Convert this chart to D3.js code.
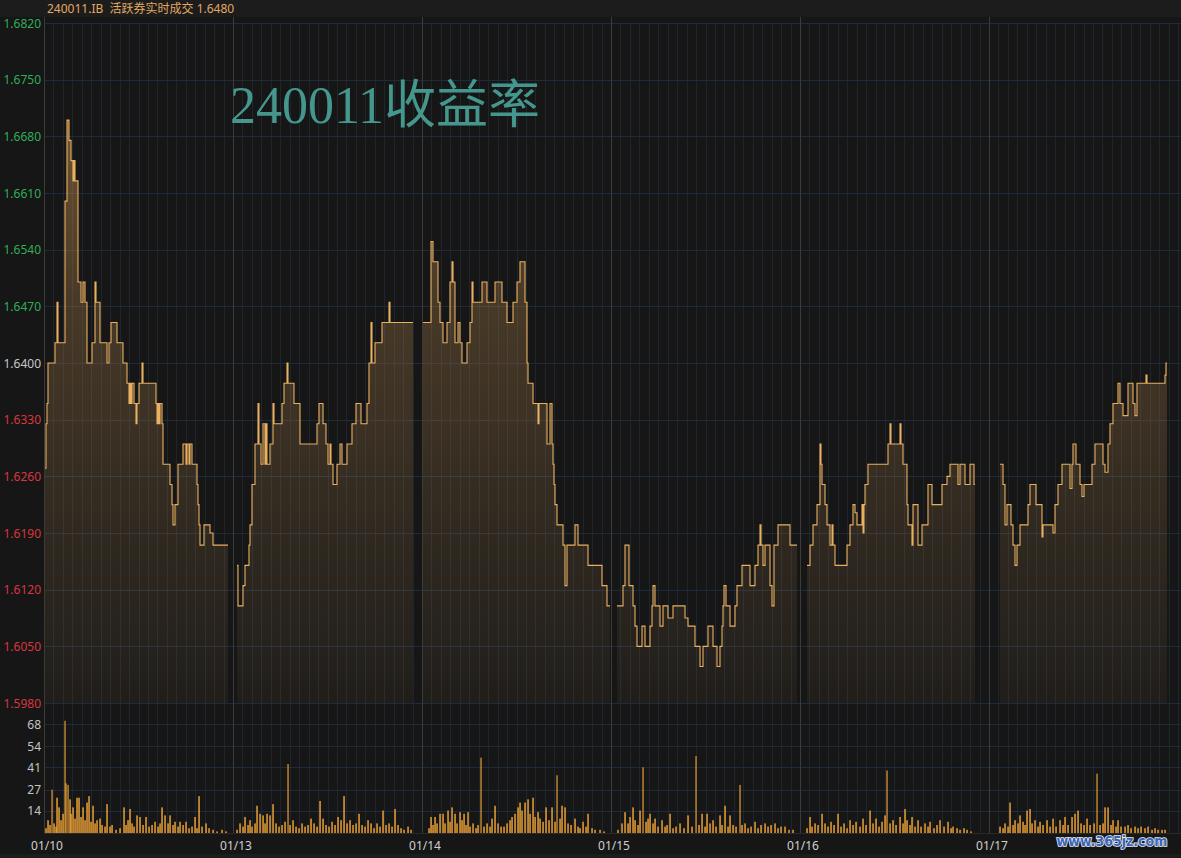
<!DOCTYPE html>
<html><head><meta charset="utf-8">
<script src="https://cdn.jsdelivr.net/npm/d3@7/dist/d3.min.js"></script>
<style>html,body{margin:0;padding:0;background:#161616;}svg{display:block;}</style>
</head><body>
<svg id="c" width="1181" height="858"></svg>
<script>
// ---------- DATA ----------
const title = "240011.IB  活跃券实时成交 1.6480";
const watermark = "240011收益率";
const siteMark = "www.365jz.com";
const dayLabels = ["01/10","01/13","01/14","01/15","01/16","01/17"];
const DAY_LEN = 189;               // bars per trading session
const priceTicks = [1.5980,1.6050,1.6120,1.6190,1.6260,1.6330,1.6400,1.6470,1.6540,1.6610,1.6680,1.6750,1.6820];
const refPrice = 1.6400;
const volTicks = [14,27,41,54,68];

// [bar within session, yield]
const price0110 = [[1,1.6270],[2,1.6325],[3,1.6350],[4,1.6400],[11,1.6425],[13,1.6475],[14,1.6425],[21,1.6600],[23,1.6700],[25,1.6675],[27,1.6650],[29,1.6625],[30,1.6650],[31,1.6625],[34,1.6500],[37,1.6475],[39,1.6500],[41,1.6475],[43,1.6400],[48,1.6425],[51,1.6500],[52,1.6475],[56,1.6425],[63,1.6400],[65,1.6425],[67,1.6450],[73,1.6425],[79,1.6400],[83,1.6375],[85,1.6350],[86,1.6375],[87,1.6350],[88,1.6375],[90,1.6350],[92,1.6325],[93,1.6350],[95,1.6375],[98,1.6400],[99,1.6375],[112,1.6350],[113,1.6325],[114,1.6350],[115,1.6325],[116,1.6350],[118,1.6325],[119,1.6275],[126,1.6250],[128,1.6225],[129,1.6200],[131,1.6225],[134,1.6275],[139,1.6300],[142,1.6275],[143,1.6300],[145,1.6275],[146,1.6300],[148,1.6275],[153,1.6250],[154,1.6225],[155,1.6200],[156,1.6175],[160,1.6200],[166,1.6190],[169,1.6175],[184,1.6175]];
const price0113 = [[4,1.6150],[5,1.6100],[10,1.6125],[12,1.6150],[16,1.6175],[17,1.6200],[19,1.6250],[22,1.6300],[25,1.6350],[26,1.6300],[28,1.6275],[30,1.6325],[32,1.6275],[33,1.6325],[34,1.6275],[37,1.6300],[40,1.6350],[41,1.6325],[49,1.6350],[51,1.6375],[54,1.6400],[55,1.6375],[61,1.6350],[67,1.6300],[84,1.6325],[86,1.6350],[90,1.6325],[93,1.6300],[95,1.6275],[97,1.6300],[98,1.6275],[100,1.6250],[104,1.6275],[107,1.6300],[109,1.6275],[114,1.6300],[119,1.6325],[123,1.6350],[128,1.6325],[134,1.6350],[136,1.6400],[138,1.6450],[139,1.6400],[142,1.6425],[149,1.6450],[156,1.6475],[157,1.6450],[180,1.6450]];
const price0114 = [[0,1.6450],[9,1.6550],[11,1.6525],[16,1.6475],[18,1.6450],[21,1.6425],[25,1.6450],[28,1.6500],[30,1.6525],[31,1.6500],[33,1.6425],[36,1.6450],[38,1.6425],[40,1.6400],[45,1.6425],[48,1.6450],[50,1.6500],[51,1.6475],[60,1.6500],[65,1.6475],[73,1.6500],[80,1.6475],[85,1.6450],[91,1.6475],[95,1.6500],[98,1.6525],[103,1.6475],[105,1.6400],[106,1.6375],[111,1.6350],[116,1.6325],[117,1.6350],[125,1.6300],[128,1.6350],[130,1.6300],[131,1.6275],[132,1.6250],[133,1.6225],[135,1.6200],[141,1.6175],[143,1.6125],[145,1.6175],[153,1.6200],[156,1.6175],[166,1.6150],[180,1.6125],[185,1.6100],[188,1.6100]];
const price0115 = [[6,1.6100],[12,1.6125],[14,1.6175],[18,1.6125],[22,1.6100],[24,1.6075],[26,1.6050],[31,1.6075],[34,1.6050],[39,1.6075],[41,1.6100],[42,1.6125],[44,1.6100],[49,1.6075],[52,1.6100],[57,1.6085],[62,1.6100],[74,1.6085],[77,1.6075],[84,1.6050],[89,1.6025],[92,1.6050],[97,1.6075],[102,1.6050],[106,1.6025],[109,1.6050],[111,1.6075],[112,1.6100],[113,1.6125],[115,1.6100],[119,1.6075],[124,1.6100],[126,1.6125],[131,1.6150],[139,1.6125],[144,1.6150],[147,1.6175],[149,1.6200],[150,1.6175],[152,1.6150],[154,1.6175],[159,1.6125],[161,1.6100],[163,1.6175],[167,1.6200],[179,1.6175],[186,1.6175]];
const price0116 = [[7,1.6150],[10,1.6175],[13,1.6200],[17,1.6225],[20,1.6300],[21,1.6275],[22,1.6250],[25,1.6225],[27,1.6200],[30,1.6175],[32,1.6200],[33,1.6175],[35,1.6150],[47,1.6175],[50,1.6200],[53,1.6225],[55,1.6215],[57,1.6200],[62,1.6225],[63,1.6190],[64,1.6225],[65,1.6250],[68,1.6275],[88,1.6300],[90,1.6325],[91,1.6300],[100,1.6325],[101,1.6300],[103,1.6275],[107,1.6225],[108,1.6200],[112,1.6175],[113,1.6225],[117,1.6225],[118,1.6175],[122,1.6200],[128,1.6250],[132,1.6225],[142,1.6250],[147,1.6260],[150,1.6275],[158,1.6250],[160,1.6275],[165,1.6250],[170,1.6275],[174,1.6250],[175,1.6250]];
const price0117 = [[11,1.6275],[14,1.6250],[16,1.6200],[18,1.6225],[22,1.6200],[24,1.6175],[26,1.6150],[28,1.6175],[31,1.6200],[39,1.6225],[41,1.6250],[47,1.6225],[53,1.6185],[54,1.6200],[64,1.6190],[66,1.6225],[69,1.6250],[73,1.6275],[81,1.6245],[83,1.6275],[84,1.6300],[87,1.6275],[91,1.6250],[93,1.6235],[95,1.6250],[103,1.6275],[106,1.6300],[114,1.6275],[116,1.6265],[119,1.6300],[121,1.6325],[124,1.6350],[129,1.6375],[131,1.6350],[134,1.6335],[139,1.6375],[144,1.6350],[146,1.6335],[148,1.6375],[157,1.6385],[158,1.6375],[176,1.6385],[177,1.6400],[178,1.6400]];

// [bar within session, volume]
const vol0110 = [[2,3],[4,8],[6,5],[8,27],[10,6],[12,4],[13,22],[15,16],[17,8],[19,12],[21,70],[22,31],[24,30],[26,21],[27,12],[29,16],[31,9],[33,22],[35,22],[37,10],[39,16],[41,8],[43,19],[45,23],[47,7],[49,17],[51,6],[53,8],[56,9],[58,5],[61,4],[63,18],[66,4],[68,5],[72,2],[76,3],[80,16],[82,5],[84,8],[86,15],[88,6],[90,4],[93,11],[96,10],[99,5],[102,10],[105,4],[108,5],[111,7],[114,4],[116,6],[118,16],[121,11],[124,6],[126,11],[129,5],[131,7],[134,4],[136,7],[139,5],[142,7],[145,3],[148,4],[151,10],[153,3],[155,23],[158,4],[162,6],[165,3],[169,2],[173,1],[178,2],[182,1]];
const vol0113 = [[4,2],[7,6],[10,4],[12,10],[15,5],[17,8],[19,4],[22,6],[24,17],[27,12],[30,11],[32,6],[34,12],[37,11],[40,18],[43,6],[46,4],[49,5],[52,7],[55,43],[57,5],[60,8],[63,4],[66,3],[69,6],[72,4],[75,5],[78,9],[81,6],[84,4],[87,20],[90,9],[93,5],[96,4],[99,7],[102,5],[105,10],[108,8],[111,23],[114,6],[117,8],[120,5],[123,6],[126,12],[129,5],[132,4],[135,8],[138,6],[141,3],[144,6],[147,4],[150,14],[153,5],[156,6],[159,4],[162,15],[165,5],[168,3],[171,2],[175,4],[178,2]];
const vol0114 = [[7,3],[9,10],[11,5],[13,10],[15,6],[18,12],[21,12],[23,6],[26,14],[28,7],[30,16],[33,12],[35,6],[38,13],[40,8],[42,12],[44,5],[46,13],[48,4],[51,6],[54,3],[56,5],[59,47],[62,4],[65,6],[68,4],[70,9],[73,17],[76,6],[79,4],[82,4],[85,6],[88,8],[90,10],[93,12],[96,16],[98,19],[100,14],[103,19],[106,21],[108,12],[111,22],[113,10],[116,13],[118,9],[121,7],[124,16],[127,8],[130,16],[133,7],[135,36],[138,9],[140,17],[143,16],[146,6],[149,5],[153,9],[156,4],[158,3],[161,7],[164,4],[166,12],[170,3],[173,2],[178,2],[182,1]];
const vol0115 = [[7,2],[11,6],[14,13],[17,6],[19,10],[22,16],[24,8],[27,5],[29,14],[32,41],[35,7],[37,9],[39,12],[42,6],[44,9],[47,4],[51,8],[54,4],[56,5],[59,12],[62,3],[65,4],[69,6],[73,3],[77,11],[81,4],[85,48],[88,5],[91,12],[94,4],[96,12],[99,6],[102,8],[105,4],[109,11],[111,5],[114,17],[117,4],[119,11],[122,5],[125,4],[129,30],[131,5],[134,6],[137,3],[140,4],[144,7],[147,3],[150,5],[154,6],[157,4],[160,5],[164,6],[167,3],[170,4],[174,4],[178,2],[182,2]];
const vol0116 = [[7,3],[10,10],[12,4],[15,6],[18,5],[22,12],[25,6],[28,4],[31,7],[34,5],[38,12],[41,4],[44,6],[47,3],[50,8],[53,5],[56,7],[60,4],[63,9],[66,5],[70,14],[73,6],[76,9],[79,4],[82,7],[85,11],[87,39],[90,6],[93,8],[96,5],[100,10],[103,6],[105,15],[107,8],[110,5],[112,10],[115,4],[118,8],[121,4],[125,6],[128,4],[130,7],[134,3],[137,5],[140,8],[144,4],[148,7],[151,3],[153,4],[157,3],[160,2],[164,3],[167,2],[171,1]];
const vol0117 = [[11,4],[14,3],[16,6],[19,4],[21,19],[24,5],[26,8],[29,6],[31,11],[34,7],[36,5],[38,14],[41,15],[43,6],[46,8],[49,4],[51,7],[54,5],[58,8],[61,4],[64,9],[67,4],[71,8],[74,5],[76,10],[79,5],[83,10],[86,12],[89,14],[92,6],[95,5],[98,9],[101,5],[105,6],[108,37],[111,5],[114,6],[116,16],[119,16],[122,5],[124,8],[127,4],[129,8],[132,4],[136,4],[139,5],[142,3],[146,4],[149,3],[152,4],[156,3],[159,4],[163,2],[166,3],[169,2],[173,2],[176,2]];

const priceByDay = [price0110, price0113, price0114, price0115, price0116, price0117];
const volByDay = [vol0110, vol0113, vol0114, vol0115, vol0116, vol0117];

// ---------- CHART ----------
const W = 1181, H = 858;
const svg = d3.select("#c");
const L = 44, R = 1178, PT = 23, PB = 703, VT = 724, VB = 833;

const x = d3.scaleLinear().domain([0, dayLabels.length * DAY_LEN]).range([L, R]);
const y = d3.scaleLinear().domain([priceTicks[0], priceTicks[priceTicks.length-1]]).range([PB, PT]);
const yv = d3.scaleLinear().domain([0, volTicks[volTicks.length-1]]).range([VB, VT]);

const defs = svg.append("defs");
const grad = defs.append("linearGradient").attr("id","fillG")
  .attr("gradientUnits","userSpaceOnUse").attr("x1",0).attr("x2",0).attr("y1",PT).attr("y2",PB);
grad.append("stop").attr("offset","0%").attr("stop-color","#d09a55").attr("stop-opacity",0.58);
grad.append("stop").attr("offset","40%").attr("stop-color","#c08d4f").attr("stop-opacity",0.3);
grad.append("stop").attr("offset","100%").attr("stop-color","#b08550").attr("stop-opacity",0.07);
defs.append("clipPath").attr("id","clipR").append("rect").attr("x",L).attr("y",0).attr("width",W-L).attr("height",H);

// backgrounds
svg.append("rect").attr("width",W).attr("height",H).attr("fill","#161616");
svg.append("rect").attr("x",0).attr("y",0).attr("width",W).attr("height",17).attr("fill","#1c1c1c");
svg.append("rect").attr("x",0).attr("y",854).attr("width",W).attr("height",4).attr("fill","#1d1d1d");

const grid = svg.append("g").attr("clip-path","url(#clipR)");
const minorTicks = d3.range(0, dayLabels.length * DAY_LEN, DAY_LEN / 20);
grid.selectAll("line.mv").data(minorTicks).join("line")
  .attr("x1", d => Math.round(x(d)) + 0.5).attr("x2", d => Math.round(x(d)) + 0.5)
  .attr("y1", PT).attr("y2", VB).attr("stroke", "#1f252d").attr("stroke-width", 1);
grid.selectAll("line.hp").data(priceTicks).join("line")
  .attr("x1", L).attr("x2", W).attr("y1", d => Math.round(y(d)) + 0.5).attr("y2", d => Math.round(y(d)) + 0.5)
  .attr("stroke", "#1d2b3a").attr("stroke-width", 1);
grid.selectAll("line.hv").data(volTicks).join("line")
  .attr("x1", L).attr("x2", W).attr("y1", d => Math.round(yv(d)) + 0.5).attr("y2", d => Math.round(yv(d)) + 0.5)
  .attr("stroke", "#1d2b3a").attr("stroke-width", 1);

// areas and lines per day
const area = d3.area().curve(d3.curveStepAfter).x(d => x(d[0])).y0(PB).y1(d => y(d[1]));
const line = d3.line().curve(d3.curveStepAfter).x(d => x(d[0])).y(d => y(d[1]));
const plot = svg.append("g");
priceByDay.forEach((arr, i) => {
  const pts = arr.map(d => [d[0] + i * DAY_LEN, d[1]]);
  plot.append("path").attr("d", area(pts)).attr("fill", "url(#fillG)");
});
priceByDay.forEach((arr, i) => {
  const pts = arr.map(d => [d[0] + i * DAY_LEN, d[1]]);
  plot.append("path").attr("d", line(pts)).attr("fill", "none")
    .attr("stroke", "#e9b062").attr("stroke-width", 1.1).attr("stroke-linejoin","miter");
});

// volume bars
const vg = svg.append("g");
volByDay.forEach((arr, i) => {
  vg.selectAll(null).data(arr).join("rect")
    .attr("x", d => x(d[0] + i * DAY_LEN) - 0.75)
    .attr("width", 1.6)
    .attr("y", d => yv(d[1]))
    .attr("height", d => yv(0) - yv(d[1]))
    .attr("fill", "#eba236")
    .attr("opacity", d => d[1] > 25 ? 0.72 : 0.92);
});
svg.append("line").attr("x1", L).attr("x2", W).attr("y1", VB + 0.5).attr("y2", VB + 0.5)
  .attr("stroke", "#2a2a2a");

// day separators & left axis
svg.selectAll("line.sep").data(dayLabels).join("line")
  .attr("x1", (d, i) => Math.round(x(i * DAY_LEN)) + 0.5).attr("x2", (d, i) => Math.round(x(i * DAY_LEN)) + 0.5)
  .attr("y1", 17).attr("y2", VB).attr("stroke", "#3b3b3b").attr("stroke-width", 1);

// y labels
const font = "'Noto Sans','Noto Sans CJK SC',sans-serif";
svg.selectAll("text.yp").data(priceTicks).join("text")
  .attr("x", 41).attr("y", d => y(d) + 4.5).attr("text-anchor", "end")
  .attr("font-family", font).attr("font-size", 12)
  .attr("fill", d => Math.abs(d - refPrice) < 1e-9 ? "#c8c8c8" : (d > refPrice ? "#2fae57" : "#d9363e"))
  .text(d => d.toFixed(4));
svg.selectAll("text.yv").data(volTicks).join("text")
  .attr("x", 41).attr("y", d => yv(d) + 4.5).attr("text-anchor", "end")
  .attr("font-family", font).attr("font-size", 12).attr("fill", "#c4c4c4")
  .text(d => d);

// x labels
svg.selectAll("text.xl").data(dayLabels).join("text")
  .attr("x", (d, i) => x(i * DAY_LEN) + 3).attr("y", 850).attr("text-anchor", "middle")
  .attr("font-family", font).attr("font-size", 12).attr("fill", "#d0d0d0")
  .text(d => d);

// header
svg.append("text").attr("x", 47).attr("y", 13)
  .attr("font-family", font).attr("font-size", 12).attr("fill", "#e0a862")
  .attr("xml:space","preserve").style("white-space","pre")
  .text(title);

// watermark title
svg.append("text").attr("x", 230).attr("y", 123)
  .attr("font-family", "'Liberation Serif','DejaVu Serif','Noto Sans CJK SC',serif")
  .attr("font-size", 52).attr("fill", "#45978d")
  .text(watermark);

// site mark
svg.append("text").attr("x", 1112).attr("y", 846).attr("text-anchor", "middle")
  .attr("font-family", "'DejaVu Sans Condensed','DejaVu Sans',sans-serif").attr("font-weight", "bold")
  .attr("font-size", 14).attr("fill", "#3c66b4").attr("stroke", "#e8eef8").attr("stroke-width", 1.6)
  .attr("paint-order", "stroke")
  .text(siteMark);
</script>
</body></html>
